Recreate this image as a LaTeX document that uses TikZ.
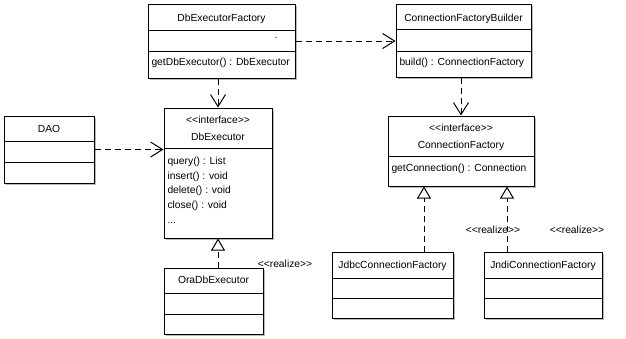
\documentclass[tikz,border=0pt]{standalone}
\usepackage{fontspec}
\setmainfont{Liberation Sans}
\usetikzlibrary{arrows.meta,shadows}

\begin{document}
\begin{tikzpicture}[x=1pt,y=-1pt,line width=1pt,font=\fontsize{10.3}{12}\selectfont,
  cls/.style={draw,fill=white,inner sep=0pt,drop shadow={shadow xshift=1.5pt,shadow yshift=-1.5pt,fill=black!35,opacity=0.8}},
  lbl/.style={inner sep=0pt,anchor=base},
  op/.style={inner sep=0pt,anchor=base west},
  dep/.style={dash pattern=on 6pt off 4pt,-{Straight Barb[length=12pt,width=15pt]}},
  real/.style={dash pattern=on 6pt off 4pt,-{Triangle[open,length=12pt,width=14pt]}}]
\useasboundingbox[fill=white] (0,0) rectangle (626,338);

% classes
\node[cls,minimum width=147,minimum height=74] (fac) at (221.5,41) {};
\draw (148,30) -- (295,30); \draw (148,51) -- (295,51);
\node[lbl] (facname) at (221.5,21) {DbExecutorFactory};
\node[lbl] (facdot) at (276,38) {.};
\node[op] (facop) at (151,65.5) {getDbExecutor() : DbExecutor};

\node[cls,minimum width=135,minimum height=73] (bld) at (463.5,40.5) {};
\draw (396,29) -- (531,29); \draw (396,51) -- (531,51);
\node[lbl] (bldname) at (463.5,21) {ConnectionFactoryBuilder};
\node[op] (bldop) at (399,65.5) {build() : ConnectionFactory};

\node[cls,minimum width=90,minimum height=67] (dao) at (49,149.5) {};
\draw (4,141) -- (94,141); \draw (4,162) -- (94,162);
\node[lbl] (daoname) at (49,132) {DAO};

\node[cls,minimum width=108,minimum height=130] (exe) at (218,173) {};
\draw (164,148) -- (272,148);
\node[lbl] (exestereo) at (218,123) {<{}<interface>{}>};
\node[lbl] (exename) at (218,140) {DbExecutor};
\node[op] (exequery) at (167,164) {query() : List};
\node[op] (exeinsert) at (167,179) {insert() : void};
\node[op] (exedelete) at (167,193.5) {delete() : void};
\node[op] (execlose) at (167,208.5) {close() : void};
\node[op] (exemore) at (167,223) {...};

\node[cls,minimum width=146,minimum height=70] (cf) at (461,151) {};
\draw (388,156) -- (534,156);
\node[lbl] (cfstereo) at (461,131) {<{}<interface>{}>};
\node[lbl] (cfname) at (461,148) {ConnectionFactory};
\node[op] (cfop) at (391,171) {getConnection() : Connection};

\node[cls,minimum width=99,minimum height=66] (ora) at (213.5,301) {};
\draw (164,293) -- (263,293); \draw (164,314) -- (263,314);
\node[lbl] (oraname) at (213.5,283) {OraDbExecutor};

\node[cls,minimum width=121,minimum height=66] (jdbc) at (392.5,285) {};
\draw (332,278) -- (453,278); \draw (332,298) -- (453,298);
\node[lbl] (jdbcname) at (392.5,268) {JdbcConnectionFactory};

\node[cls,minimum width=118,minimum height=66] (jndi) at (543,285) {};
\draw (484,278) -- (602,278); \draw (484,298) -- (602,298);
\node[lbl] (jndiname) at (543,268) {JndiConnectionFactory};

% relations
\draw[dep] (dao.east) -- (dao.east -| exe.west);
\draw[dep] (fac.south -| exe.north) -- (exe.north);
\draw[dep] (fac.east) -- (fac.east -| bld.west);
\draw[dep] (bld.south -| cf.north) -- (cf.north);
\draw[real] (ora.north -| exe.south) -- (exe.south);
\draw[real] ([xshift=31.5pt]jdbc.north) -- ([xshift=31.5pt]jdbc.north |- cf.south);
\draw[real] ([xshift=-36pt]jndi.north) -- ([xshift=-36pt]jndi.north |- cf.south);
\node[lbl] (orareal) at (285,267) {<{}<realize>{}>};
\node[lbl] (jdbcreal) at (493,233) {<{}<realize>{}>};
\node[lbl] (jndireal) at (577,233) {<{}<realize>{}>};
\end{tikzpicture}
\end{document}
